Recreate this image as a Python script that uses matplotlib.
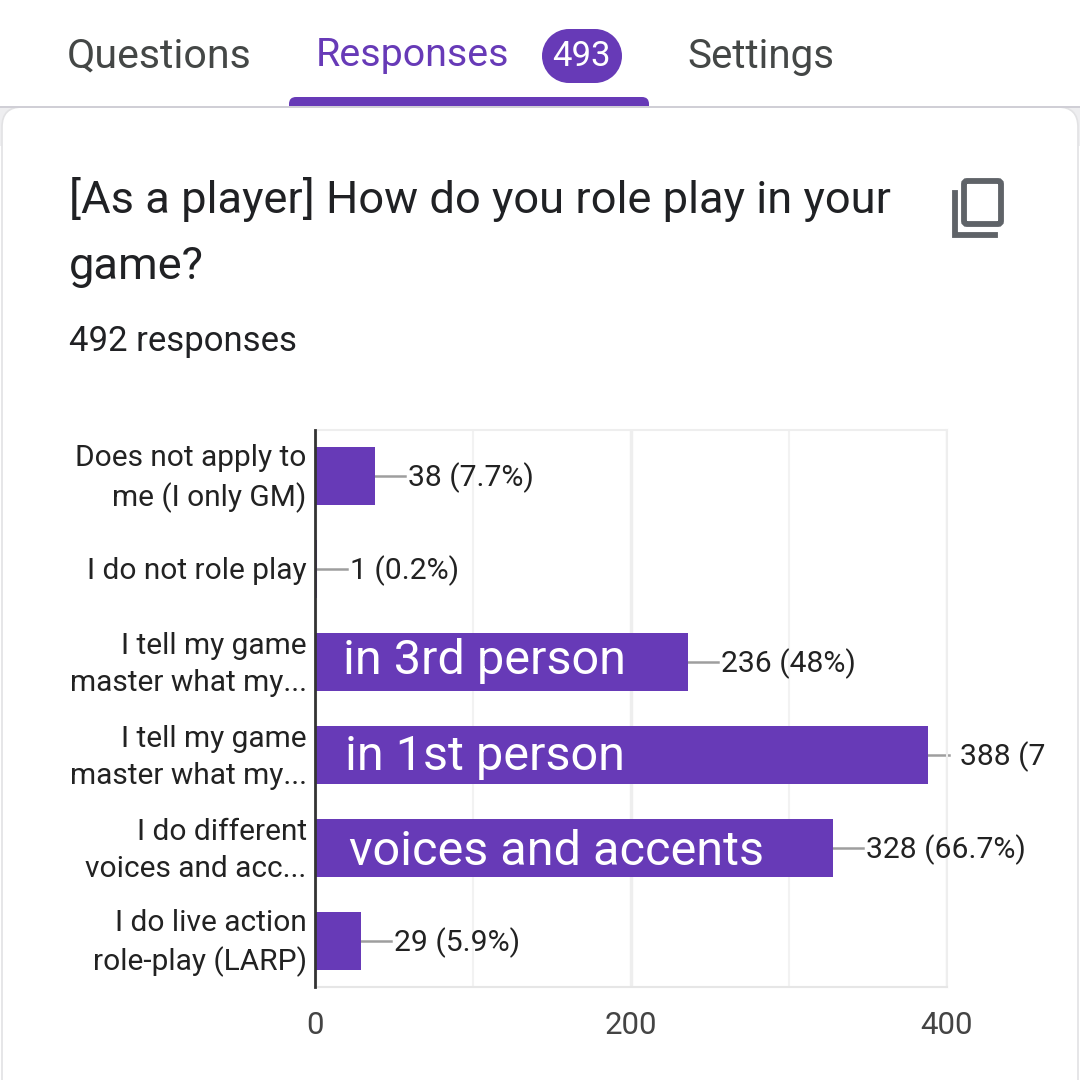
import matplotlib
matplotlib.use('Agg')
import matplotlib.pyplot as plt
from matplotlib.patches import Circle, FancyBboxPatch, Rectangle
from matplotlib.transforms import ScaledTranslation

plt.rcParams['font.family'] = ['Roboto', 'DejaVu Sans']

categories = ['Does not apply to\nme (I only GM)', 'I do not role play',
              'I tell my game\nmaster what my...', 'I tell my game\nmaster what my...',
              'I do different\nvoices and acc...', 'I do live action\nrole-play (LARP)']
values = [38, 1, 236, 388, 328, 29]
value_labels = ['38 (7.7%)', '1 (0.2%)', '236 (48%)', '388 (7', '328 (66.7%)', '29 (5.9%)']
bar_notes = ['', '', 'in 3rd person', 'in 1st person', 'voices and accents', '']
x_ticks = [0, 200, 400]
minor_ticks = [100, 300]

PURPLE = '#673ab7'
W = 1080

fig = plt.figure(figsize=(10.8, 10.8), dpi=100)
bg = fig.add_axes([0, 0, 1, 1])
bg.set_xlim(0, W)
bg.set_ylim(W, 0)
bg.axis('off')

# page and card
bg.add_patch(Rectangle((0, 106), W, 40, fc='#eeeef0', ec='none'))
bg.add_patch(FancyBboxPatch((2, 107), 1076, 1100, boxstyle='round,pad=0,rounding_size=20',
                            fc='white', ec='#e2e2e4', lw=1.2))
bg.add_patch(Rectangle((0, 105.5), W, 2.5, fc='#d0cfd6', ec='none', zorder=3))

# tabs
bg.text(67, 56, 'Questions', fontsize=29.6, color='#444746', va='center')
bg.text(316, 56, 'Responses', fontsize=28.4, color=PURPLE, va='center')
bg.add_patch(Rectangle((569, 29), 26, 54, fc=PURPLE, ec='none'))
bg.add_patch(Circle((569, 56), 27, fc=PURPLE, ec='none'))
bg.add_patch(Circle((595, 56), 27, fc=PURPLE, ec='none'))
bg.text(581.5, 57, '493', fontsize=25, color='white', ha='center', va='center')
bg.text(687, 56, 'Settings', fontsize=29, color='#444746', va='center')
bg.add_patch(FancyBboxPatch((289, 97), 360, 18, boxstyle='round,pad=0,rounding_size=7',
                            fc=PURPLE, ec='none', zorder=2))
bg.add_patch(Rectangle((285, 106), 368, 12, fc='white', ec='none', zorder=2))

# question
bg.text(69, 200, '[As a player] How do you role play in your', fontsize=32.6, color='#202124', va='center')
bg.text(69, 267, 'game?', fontsize=32.6, color='#202124', va='center')
bg.text(69, 341, '492 responses', fontsize=25, color='#202124', va='center')

# copy icon
bg.add_patch(FancyBboxPatch((964, 181), 37, 43, boxstyle='round,pad=0,rounding_size=3',
                            fc='none', ec='#5f6368', lw=4.2))
bg.plot([955, 955, 995], [193, 235, 235], color='#5f6368', lw=4.2, solid_joinstyle='miter')

# chart, axes placed in pixels
left, right, top, bottom = 315, 947, 429.5, 987
ax = fig.add_axes([left / W, 1 - bottom / W, (right - left) / W, (bottom - top) / W])
ax.set_xlim(0, 400)
ax.set_ylim(5.5, -0.5)
ypos = range(len(values))
ax.barh(ypos, values, height=0.625, color=PURPLE, zorder=3)

for spine in ['top', 'right']:
    ax.spines[spine].set_color('#eeeeee')
    ax.spines[spine].set_linewidth(1.5)
ax.spines['bottom'].set_color('#e6e6e6')
ax.spines['bottom'].set_linewidth(1.5)
ax.spines['left'].set_color('#333333')
ax.spines['left'].set_linewidth(2)
ax.spines['left'].set_zorder(6)

ax.set_xticks(x_ticks)
ax.set_xticks(minor_ticks, minor=True)
ax.xaxis.grid(True, which='major', color='#eeeeee', lw=2.5, zorder=0)
ax.xaxis.grid(True, which='minor', color='#f2f2f2', lw=1.5, zorder=0)
ax.set_axisbelow(True)
ax.tick_params(axis='x', which='both', length=0, pad=17, labelsize=22.5, labelcolor='#444444')
ax.set_yticks(list(ypos))
ax.set_yticklabels(categories, fontsize=21.5, color='#222222', linespacing=1.4, va='center')
ax.tick_params(axis='y', length=0, pad=6)
# tick labels sit a little low in the original
shift = ScaledTranslation(0, -2.5 / 100, fig.dpi_scale_trans)
for lab in ax.get_yticklabels():
    lab.set_transform(lab.get_transform() + shift)

note_x = [0, 0, 17.7, 19, 21.5, 0]
note_dy = [0, 0, -0.01, 0.025, 0.05, 0]
for i, v in enumerate(values):
    # leader line then value label
    end = v + 19 if i != 3 else v + 13
    ax.plot([v, end], [i, i], color='#9e9e9e', lw=1.8, zorder=2, clip_on=False)
    tx = end + 2 if i != 3 else end + 7.5
    ax.text(tx, i + 0.02, value_labels[i], fontsize=21.7, color='#222222', va='center', clip_on=False)
    if bar_notes[i]:
        ax.text(note_x[i], i + note_dy[i], bar_notes[i], fontsize=35, color='white', va='center', zorder=4)

fig.savefig('out.png', dpi=100)
